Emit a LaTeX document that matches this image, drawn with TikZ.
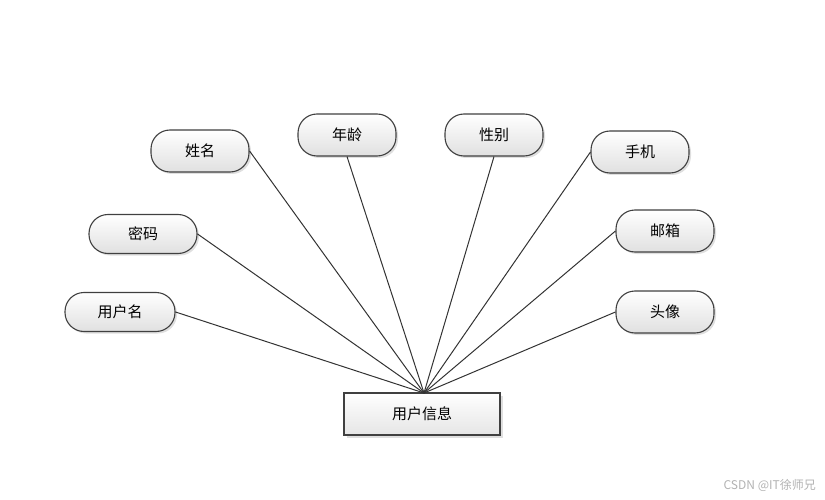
\documentclass[tikz,border=0pt]{standalone}
\usepackage{fontspec}
\newfontfamily\cjk{Noto Sans CJK SC}
\usetikzlibrary{shadows}
\begin{document}
\begin{tikzpicture}[x=1pt,y=-1pt,
  attr/.style={draw=black!75, line width=1.1pt, rounded corners=19pt,
    minimum width=98pt, minimum height=42pt, top color=white, bottom color=black!12,
    drop shadow={shadow xshift=2pt, shadow yshift=-2pt, opacity=0.25},
    font=\cjk\fontsize{15}{17}\selectfont, inner sep=0pt},
  ent/.style={draw=black!75, line width=1.3pt, minimum width=156pt, minimum height=42pt,
    top color=white, bottom color=black!10,
    drop shadow={shadow xshift=3pt, shadow yshift=-3pt, opacity=0.25},
    font=\cjk\fontsize{15}{17}\selectfont, inner sep=0pt},
  link/.style={draw=black!80, line width=1pt}]
\useasboundingbox (0,0) rectangle (825,500);
\node[attr] (xm) at (200,151) {姓名};
\node[attr] (nl) at (347,135) {年龄};
\node[attr] (xb) at (494,135) {性别};
\node[attr] (sj) at (640,152) {手机};
\node[attr, minimum width=108pt, minimum height=39pt] (mm) at (143,234) {密码};
\node[attr] (yx) at (665,231) {邮箱};
\node[attr, minimum width=110pt, minimum height=39pt] (yhm) at (120,312) {用户名};
\node[attr] (tx) at (665,312) {头像};
\node[ent] (yh) at (422,414) {用户信息};
\coordinate (c) at (424,393);
\draw[link] (xm.east) -- (c);
\draw[link] (nl.south) -- (c);
\draw[link] (xb.south) -- (c);
\draw[link] (sj.west) -- (c);
\draw[link] (mm.east) -- (c);
\draw[link] (yx.west) -- (c);
\draw[link] (yhm.east) -- (c);
\draw[link] (tx.west) -- (c);
\node[text=black!30, font=\cjk\fontsize{12}{14}\selectfont, anchor=east, inner sep=0pt] (wm) at (816,485) {CSDN @IT徐师兄};
\end{tikzpicture}
\end{document}
